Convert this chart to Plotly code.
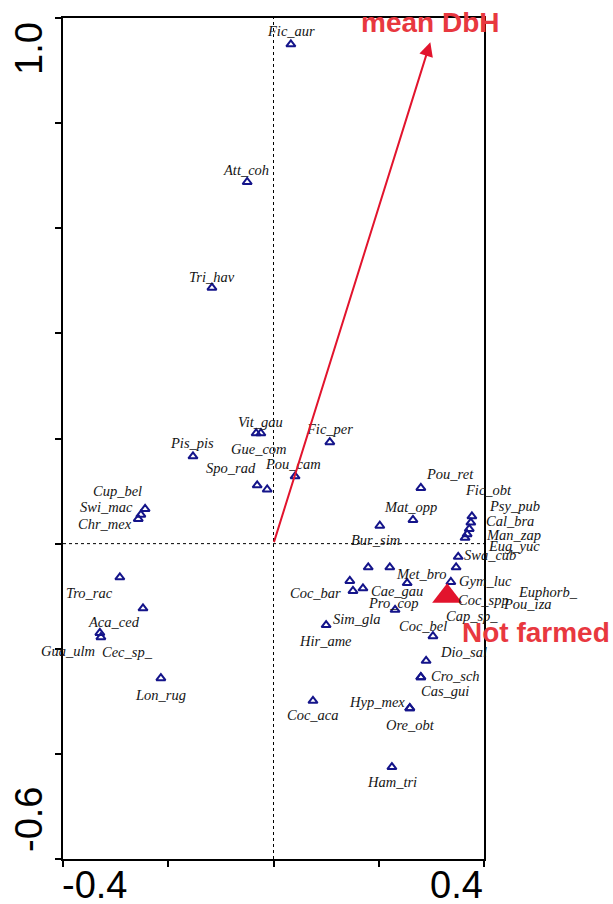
import plotly.graph_objects as go

# Species scores on the first two ordination axes
species = [
    "Fic_aur", "Att_coh", "Tri_hav", "Vit_gau", "Gue_com", "Fic_per", "Pis_pis",
    "Spo_rad", "", "Pou_cam", "Cup_bel", "Swi_mac", "Chr_mex", "Tro_rac",
    "Aca_ced", "Gua_ulm", "Cec_sp_", "Lon_rug", "Pou_ret", "Mat_opp", "Bur_sim",
    "Fic_obt", "Psy_pub", "Cal_bra", "Man_zap", "Eug_yuc", "Swa_cub", "Coc_spp",
    "Gym_luc", "Euphorb_", "Pou_iza", "Cap_sp_", "", "Met_bro", "Coc_bar", "",
    "Cae_gau", "Pro_cop", "Sim_gla", "Hir_ame", "Coc_bel", "Dio_sal", "Cro_sch",
    "Cas_gui", "Hyp_mex", "Ore_obt", "Coc_aca", "Ham_tri",
]
axis1 = [
    0.033, -0.050, -0.117, -0.033, -0.024, 0.107, -0.153,
    -0.031, -0.012, 0.041, -0.244, -0.252, -0.257, -0.292,
    -0.248, -0.330, -0.328, -0.214, 0.280, 0.265, 0.202,
    0.377, 0.375, 0.372, 0.368, 0.364, 0.351, 0.347,
    0.337, 0.330, 0.330, 0.330, 0.180, 0.221, 0.145, 0.151,
    0.170, 0.254, 0.231, 0.100, 0.303, 0.290, 0.280,
    0.280, 0.259, 0.259, 0.075, 0.225,
]
axis2 = [
    0.950, 0.688, 0.487, 0.210, 0.210, 0.193, 0.166,
    0.111, 0.103, 0.128, 0.066, 0.055, 0.047, -0.064,
    -0.123, -0.170, -0.178, -0.256, 0.106, 0.045, 0.034,
    0.052, 0.040, 0.028, 0.018, 0.011, -0.025, -0.045,
    -0.073, -0.100, -0.100, -0.100, -0.045, -0.045, -0.071, -0.090,
    -0.085, -0.075, -0.126, -0.155, -0.176, -0.223, -0.254,
    -0.254, -0.313, -0.313, -0.299, -0.425,
]

# Environmental variables: quantitative (arrow) and nominal (centroid)
env_arrow_name = "mean DbH"
env_arrow = (0.298, 0.954)
centroid_name = "Not farmed"
centroid = (0.330, -0.100)

# Label placement around each species symbol, in screen pixels (right, up)
label_offsets = {
    "Fic_aur": (0, 13), "Att_coh": (-1, 12), "Tri_hav": (0, 11),
    "Vit_gau": (4, 11), "Gue_com": (-2, -16), "Fic_per": (0, 13),
    "Pis_pis": (-1, 13), "Spo_rad": (-26, 17), "Pou_cam": (-2, 12),
    "Cup_bel": (-28, 18), "Swi_mac": (-34, 8), "Chr_mex": (-33, -5),
    "Tro_rac": (-30, -16), "Aca_ced": (-29, -14), "Gua_ulm": (-32, -18),
    "Cec_sp_": (27, -15), "Lon_rug": (0, -17), "Pou_ret": (29, 14),
    "Mat_opp": (-2, 13), "Bur_sim": (-4, -14), "Fic_obt": (17, 26),
    "Psy_pub": (44, 17), "Cal_bra": (41, 8), "Man_zap": (46, -1),
    "Eug_yuc": (49, -8), "Swa_cub": (32, 2), "Coc_spp": (27, -33),
    "Gym_luc": (35, 1), "Euphorb_": (101, 4), "Pou_iza": (80, -8),
    "Cap_sp_": (25, -20), "Met_bro": (31, -7), "Coc_bar": (-34, -12),
    "Cae_gau": (34, -3), "Pro_cop": (-14, -20), "Sim_gla": (-38, -9),
    "Hir_ame": (-1, -16), "Coc_bel": (-10, 10), "Dio_sal": (37, 9),
    "Cro_sch": (35, 1), "Cas_gui": (24, -14), "Hyp_mex": (-33, 6),
    "Ore_obt": (1, -17), "Coc_aca": (0, -14), "Ham_tri": (0, -15),
}

x_range = [-0.4, 0.4]
y_range = [-0.6, 1.0]
x_ticks = [-0.4, -0.2, 0.0, 0.2, 0.4]
y_ticks = [-0.6, -0.4, -0.2, 0.0, 0.2, 0.4, 0.6, 0.8, 1.0]

RED = "#e2142d"
RED_TEXT = "#e8383f"
NAVY = "#14148a"
LABEL_FONT = dict(family="Liberation Serif, Times New Roman, serif", size=14.5,
                  color="#141414", style="italic")
NUM_FONT = dict(family="Liberation Sans, Arial, sans-serif", size=38, color="black")

fig = go.Figure()

# Species symbols
fig.add_trace(go.Scatter(
    x=axis1, y=axis2, mode="markers", hoverinfo="text", text=species,
    marker=dict(symbol="triangle-up-open", size=8, color=NAVY,
                line=dict(width=2, color=NAVY)),
    showlegend=False, cliponaxis=False,
))

# Centroid of the nominal variable
fig.add_trace(go.Scatter(
    x=[centroid[0]], y=[centroid[1]], mode="markers",
    marker=dict(symbol="triangle-up", size=26, color=RED, line=dict(width=0)),
    showlegend=False, hoverinfo="skip",
))

annotations = []
for name, sx, sy in zip(species, axis1, axis2):
    if not name:
        continue
    dx, dy = label_offsets[name]
    annotations.append(dict(
        x=sx, y=sy, xref="x", yref="y", text=name, showarrow=False,
        xshift=dx, yshift=dy, xanchor="center", yanchor="middle",
        font=LABEL_FONT,
    ))

# Arrow for the quantitative variable, from the origin
annotations.append(dict(
    x=env_arrow[0], y=env_arrow[1], ax=0, ay=0, xref="x", yref="y",
    axref="x", ayref="y", text="", showarrow=True, arrowhead=2,
    arrowsize=1.4, arrowwidth=2, arrowcolor=RED, standoff=0,
))
annotations.append(dict(
    x=env_arrow[0], y=env_arrow[1], xref="x", yref="y", text=env_arrow_name,
    showarrow=False, yshift=20, xanchor="center", yanchor="middle",
    font=dict(family="Liberation Sans, Arial, sans-serif", size=28,
              color=RED_TEXT, weight="bold"),
))
annotations.append(dict(
    x=centroid[0], y=centroid[1], xref="x", yref="y", text=centroid_name,
    showarrow=False, xshift=89, yshift=-36, xanchor="center", yanchor="middle",
    font=dict(family="Liberation Sans, Arial, sans-serif", size=28,
              color=RED_TEXT, weight="bold"),
))

# End labels of the axes
annotations += [
    dict(x=x_range[0], y=0, xref="x", yref="paper", text="-0.4",
         showarrow=False, xanchor="left", yanchor="middle", yshift=-26,
         xshift=-3, font=NUM_FONT),
    dict(x=x_range[1], y=0, xref="x", yref="paper", text="0.4",
         showarrow=False, xanchor="right", yanchor="middle", yshift=-26,
         xshift=1, font=NUM_FONT),
    dict(x=0, y=y_range[1], xref="paper", yref="y", text="1.0",
         showarrow=False, textangle=-90, xanchor="center", yanchor="middle",
         xshift=-34, yshift=-31, font=NUM_FONT),
    dict(x=0, y=y_range[0], xref="paper", yref="y", text="-0.6",
         showarrow=False, textangle=-90, xanchor="center", yanchor="middle",
         xshift=-34, yshift=39, font=NUM_FONT),
]

# Dashed lines through the origin
shapes = [
    dict(type="line", xref="x", yref="paper", x0=0, x1=0, y0=0, y1=1,
         line=dict(color="black", width=1, dash="3px,3px"), layer="below"),
    dict(type="line", xref="paper", yref="y", x0=0, x1=1, y0=0, y1=0,
         line=dict(color="black", width=1, dash="3px,3px"), layer="below"),
]

axis_common = dict(
    showgrid=False, zeroline=False, showline=True, linecolor="black",
    linewidth=2, mirror=True, ticks="outside", ticklen=6, tickwidth=2,
    tickcolor="black", showticklabels=False, fixedrange=True,
)

fig.update_layout(
    width=613, height=904,
    margin=dict(l=63, r=129, t=18, b=45),
    paper_bgcolor="white", plot_bgcolor="white",
    xaxis=dict(range=x_range, tickvals=x_ticks, **axis_common),
    yaxis=dict(range=y_range, tickvals=y_ticks, **axis_common),
    annotations=annotations, shapes=shapes,
)

fig.write_html("out.html")
